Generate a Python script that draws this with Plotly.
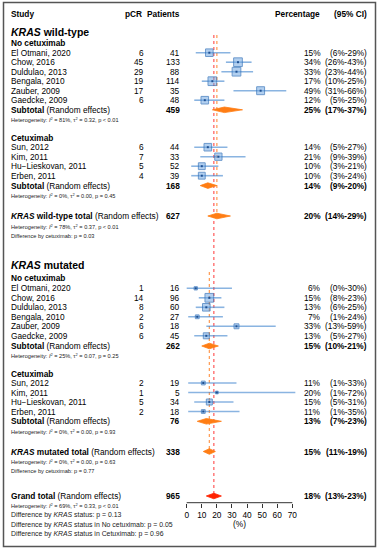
import math
import plotly.graph_objects as go

# ---------------- data ----------------
studies_nocet = ["El Otmani, 2020", "Chow, 2016", "Duldulao, 2013", "Bengala, 2010", "Zauber, 2009", "Gaedcke, 2009"]
studies_cet = ["Sun, 2012", "Kim, 2011", "Hu\u2212Lieskovan, 2011", "Erben, 2011"]

wt_nocet_pcr = [6, 45, 29, 19, 17, 6]
wt_nocet_n = [41, 133, 88, 114, 35, 48]
wt_nocet_pct = [15, 34, 33, 17, 49, 12]
wt_nocet_lo = [6, 26, 23, 10, 31, 5]
wt_nocet_hi = [29, 43, 44, 25, 66, 25]
wt_nocet_w = [6.4, 8.4, 8.4, 8.4, 7.0, 6.4]

wt_cet_pcr = [6, 7, 5, 4]
wt_cet_n = [44, 33, 52, 39]
wt_cet_pct = [14, 21, 10, 10]
wt_cet_lo = [5, 9, 3, 3]
wt_cet_hi = [27, 39, 21, 24]
wt_cet_w = [6.4, 5.9, 5.2, 5.2]

mut_nocet_pcr = [1, 14, 8, 2, 6, 6]
mut_nocet_n = [16, 96, 60, 27, 18, 45]
mut_nocet_pct = [6, 15, 13, 7, 33, 13]
mut_nocet_lo = [0, 8, 6, 1, 13, 5]
mut_nocet_hi = [30, 23, 25, 24, 59, 27]
mut_nocet_w = [1.2, 8.4, 6.4, 1.6, 2.7, 4.0]

mut_cet_pcr = [2, 1, 5, 2]
mut_cet_n = [19, 5, 34, 18]
mut_cet_pct = [11, 20, 15, 11]
mut_cet_lo = [1, 1, 5, 1]
mut_cet_hi = [33, 72, 31, 35]
mut_cet_w = [1.6, 0.8, 4.0, 1.6]

# pooled estimates: wt_nocet, wt_cet, wt_total, mut_nocet, mut_cet, mut_total, grand
pooled_n = [459, 168, 627, 262, 76, 338, 965]
pooled_pct = [25, 14, 20, 15, 13, 15, 18]
pooled_lo = [17, 9, 14, 10, 7, 11, 13]
pooled_hi = [37, 20, 29, 21, 23, 19, 23]
het_i2 = [81, 0, 78, 25, 0, 0, 69]
het_tau2 = ["0.32", "0.00", "0.37", "0.07", "0.00", "0.00", "0.33"]
het_p = ["< 0.01", "= 0.45", "< 0.01", "= 0.25", "= 0.93", "= 0.63", "< 0.01"]

diff_cet_p = ["0.03", "0.77"]
diff_kras_suffix = ["", " in No cetuximab", " in Cetuximab"]
diff_kras_p = ["0.13", "0.05", "0.96"]

x_ticks = [0, 10, 20, 30, 40, 50, 60, 70]

# ---------------- layout constants ----------------
W, H = 379, 550
FONT = "Liberation Sans, Arial, Helvetica, sans-serif"
PX0, PX70 = 186.7, 292.3          # pixel x of 0% and 70%
SCALE = (PX70 - PX0) / 70.0
XR = [-PX0 / SCALE, (W - PX0) / SCALE]
AXIS_Y = 502.7
STEP = 9.5

FS = 8.3      # main font size
FS_T = 10.5   # section titles
FS_S = 5.6    # small notes
FS_D = 6.9    # KRAS-status difference notes

X_STUDY = 11
X_PCR = 143.5
X_N = 179.5
X_PCT = 321
X_CI = 367

LINE_COL = "rgba(60,130,205,0.6)"
BOX_FILL = "rgba(110,165,225,0.75)"
BOX_EDGE = "#2f6fb8"
DIA_COL = "#ff7d14"
GRAND_COL = "#ff2200"

fig = go.Figure()


def txt(xpx, y, s, anchor="left", size=FS, color="black"):
    fig.add_annotation(x=xpx / W, xref="paper", y=y, yref="y", text=s, showarrow=False,
                       xanchor=anchor, yanchor="middle", borderpad=0, borderwidth=0,
                       font=dict(size=size, color=color, family=FONT))


def fmt_ci(lo, hi):
    return f"({lo}%-{hi}%)"


def study_block(names, pcr, n, pct, lo, hi, w, y0):
    ys = [y0 + STEP * i for i in range(len(names))]
    xs, yl = [], []
    for a, b, y in zip(lo, hi, ys):
        xs += [a, b, None]
        yl += [y, y, None]
    fig.add_trace(go.Scatter(x=xs, y=yl, mode="lines", line=dict(color=LINE_COL, width=1.6),
                             hoverinfo="skip", showlegend=False))
    fig.add_trace(go.Scatter(x=pct, y=ys, mode="markers", showlegend=False,
                             marker=dict(symbol="square", size=[3.0 * math.sqrt(v) for v in w],
                                         color=BOX_FILL, line=dict(color=BOX_EDGE, width=1))))
    fig.add_trace(go.Scatter(x=pct, y=ys, mode="markers", showlegend=False, hoverinfo="skip",
                             marker=dict(symbol="square", size=2, color="#1f4f90", line=dict(width=0))))
    for nm, p, nn, e, a, b, y in zip(names, pcr, n, pct, lo, hi, ys):
        txt(X_STUDY, y, nm)
        txt(X_PCR, y, str(p), "right")
        txt(X_N, y, str(nn), "right")
        txt(X_PCT, y, f"{e}%", "right")
        txt(X_CI, y, fmt_ci(a, b), "right")
    return ys


def pooled(k, y, label, color=DIA_COL):
    e, a, b = pooled_pct[k], pooled_lo[k], pooled_hi[k]
    h = 2.8
    fig.add_trace(go.Scatter(x=[a, e, b, e, a], y=[y, y - h, y, y + h, y], mode="lines",
                             fill="toself", fillcolor=color, line=dict(color=color, width=0.8),
                             hoverinfo="skip", showlegend=False))
    txt(X_STUDY, y, label)
    txt(X_N, y, f"<b>{pooled_n[k]}</b>", "right")
    txt(X_PCT, y, f"<b>{e}%</b>", "right")
    txt(X_CI, y, f"<b>{fmt_ci(a, b)}</b>", "right")


def het(k, y):
    p = het_p[k].replace("<", "&lt;")
    txt(X_STUDY, y, f"Heterogeneity: <i>I</i><sup>2</sup> = {het_i2[k]}%, \u03c4<sup>2</sup> = {het_tau2[k]}, p {p}",
        size=FS_S, color="#222")


def small(y, s, size=FS_S):
    txt(X_STUDY, y, s, size=size, color="#222")


# reference (dotted) lines
fig.add_trace(go.Scatter(x=[pooled_pct[2]] * 2, y=[35, 216], mode="lines", hoverinfo="skip", showlegend=False,
                         line=dict(color="#ff9a50", width=1.2, dash="dot")))
fig.add_trace(go.Scatter(x=[pooled_pct[5]] * 2, y=[272, 451.5], mode="lines", hoverinfo="skip", showlegend=False,
                         line=dict(color="#ff9a50", width=1.2, dash="dot")))
fig.add_trace(go.Scatter(x=[pooled_pct[6]] * 2, y=[35, 496], mode="lines", hoverinfo="skip", showlegend=False,
                         line=dict(color="#ff5a5a", width=1.2, dash="dot")))

# header
txt(X_STUDY, 14, "<b>Study</b>")
txt(X_PCR - 1.5, 14, "<b>pCR</b>", "right")
txt(X_N, 14, "<b>Patients</b>", "right")
txt(X_PCT - 1, 14, "<b>Percentage</b>", "right")
txt(X_CI, 14, "<b>(95% CI)</b>", "right")

# KRAS wild-type
txt(X_STUDY, 31.5, "<b><i>KRAS</i> wild-type</b>", size=FS_T)
txt(X_STUDY, 43, "<b>No cetuximab</b>")
study_block(studies_nocet, wt_nocet_pcr, wt_nocet_n, wt_nocet_pct, wt_nocet_lo, wt_nocet_hi, wt_nocet_w, 52.7)
pooled(0, 109.8, "<b>Subtotal</b> (Random effects)")
het(0, 119.2)
txt(X_STUDY, 137.8, "<b>Cetuximab</b>")
study_block(studies_cet, wt_cet_pcr, wt_cet_n, wt_cet_pct, wt_cet_lo, wt_cet_hi, wt_cet_w, 147.2)
pooled(1, 185.6, "<b>Subtotal</b> (Random effects)")
het(1, 195.4)
pooled(2, 216, "<b><i>KRAS</i> wild-type total</b> (Random effects)")
het(2, 226)
small(235.6, f"Difference by cetuximab: p = {diff_cet_p[0]}")

# KRAS mutated
txt(X_STUDY, 265, "<b><i>KRAS</i> mutated</b>", size=FS_T)
txt(X_STUDY, 277.5, "<b>No cetuximab</b>")
study_block(studies_nocet, mut_nocet_pcr, mut_nocet_n, mut_nocet_pct, mut_nocet_lo, mut_nocet_hi, mut_nocet_w, 288.3)
pooled(3, 346, "<b>Subtotal</b> (Random effects)")
het(3, 355.8)
txt(X_STUDY, 373.5, "<b>Cetuximab</b>")
study_block(studies_cet, mut_cet_pcr, mut_cet_n, mut_cet_pct, mut_cet_lo, mut_cet_hi, mut_cet_w, 383)
pooled(4, 421.3, "<b>Subtotal</b> (Random effects)")
het(4, 431.5)
pooled(5, 451.5, "<b><i>KRAS</i> mutated total</b> (Random effects)")
het(5, 461.5)
small(471.3, f"Difference by cetuximab: p = {diff_cet_p[1]}")

# Grand total
pooled(6, 496, "<b>Grand total</b> (Random effects)", color=GRAND_COL)
het(6, 505.7)
for i, (suf, p) in enumerate(zip(diff_kras_suffix, diff_kras_p)):
    small(515.3 + 9.45 * i, f"Difference by <i>KRAS</i> status{suf}: p = {p}", size=FS_D)

# x axis line
fig.add_trace(go.Scatter(x=[min(x_ticks), max(x_ticks)], y=[AXIS_Y, AXIS_Y], mode="lines", hoverinfo="skip",
                         showlegend=False, line=dict(color="#333", width=1)))
fig.add_annotation(x=(min(x_ticks) + max(x_ticks)) / 2, xref="x", y=524, yref="y", text="(%)", showarrow=False,
                   xanchor="center", yanchor="middle", borderpad=0, borderwidth=0,
                   font=dict(size=FS, color="black", family=FONT))

# border
fig.add_shape(type="rect", xref="paper", yref="paper", x0=3.5 / W, x1=375.5 / W, y0=1 - 546.5 / H, y1=1 - 2.5 / H,
              line=dict(color="#555", width=1.5))

fig.update_layout(
    width=W, height=H, margin=dict(l=0, r=0, t=0, b=0),
    paper_bgcolor="white", plot_bgcolor="white",
    font=dict(family=FONT, color="black"),
    xaxis=dict(range=XR, tickvals=x_ticks, ticks="outside", ticklen=4, tickcolor="#333", tickwidth=1,
               showline=False, showgrid=False, zeroline=False, anchor="free", position=1 - AXIS_Y / H,
               tickfont=dict(size=FS, family=FONT, color="black"), fixedrange=True),
    yaxis=dict(range=[H, 0], domain=[0, 1], visible=False, fixedrange=True),
    showlegend=False,
)

fig.write_html("out.html", config={"displayModeBar": False},
               post_script="document.body.style.margin='0';document.body.style.overflow='hidden';")
